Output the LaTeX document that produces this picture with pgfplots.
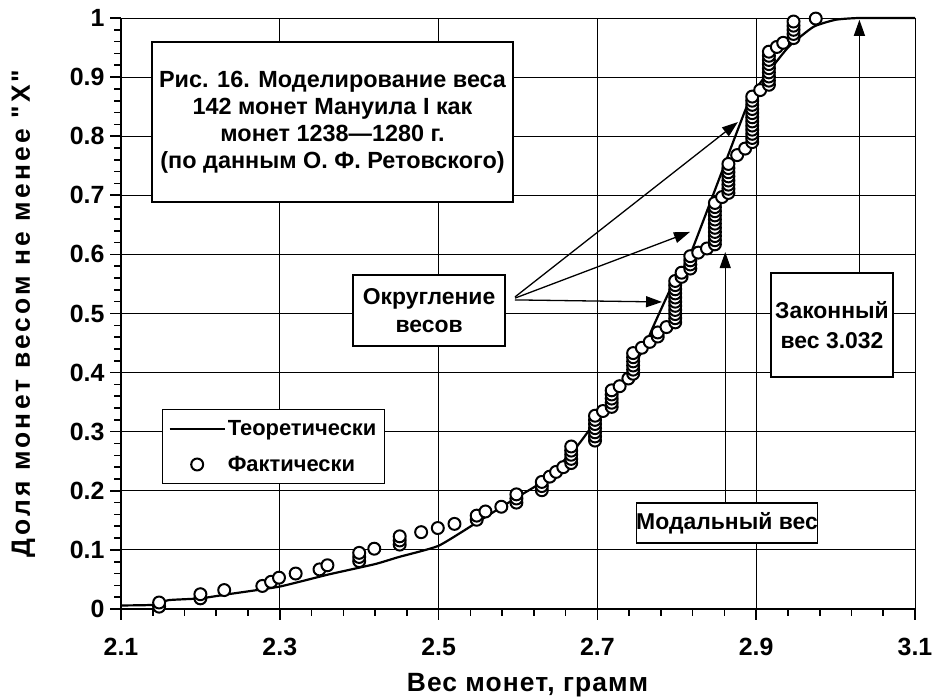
\documentclass[border=0pt]{standalone}
\usepackage{fontspec}
\setmainfont{Liberation Sans}[Ligatures=TeXOff]
\usepackage{pgfplots}
\pgfplotsset{compat=1.18}
\usetikzlibrary{arrows.meta}

\newcommand{\boxfont}{\fontsize{23.5}{27}\selectfont\bfseries}
\newcommand{\tickfont}{\fontsize{25}{25}\selectfont\bfseries}
\newcommand{\titlefont}{\fontsize{26.5}{26.5}\selectfont\bfseries\addfontfeatures{LetterSpace=4}}
\newcommand{\ytitlefont}{\fontsize{26.5}{26.5}\selectfont\bfseries\addfontfeatures{LetterSpace=12}}

\pgfplotsset{
  lineleg/.style={legend image code/.code={\draw[##1] (0bp,0bp) -- (55bp,0bp);}},
  markleg/.style={legend image code/.code={\draw[mark repeat=2,mark phase=2,##1] plot coordinates {(0bp,0bp) (27.5bp,0bp) (55bp,0bp)};}},
}

\begin{document}
\begin{tikzpicture}
\useasboundingbox (0,0) rectangle (934bp,699bp);
\begin{axis}[
  at={(121bp,90bp)}, anchor=south west,
  scale only axis, width=794bp, height=591bp,
  xmin=2.1, xmax=3.1, ymin=0, ymax=1,
  xtick={2.1,2.3,2.5,2.7,2.9,3.1},
  ytick={0,0.1,0.2,0.3,0.4,0.5,0.6,0.7,0.8,0.9,1},
  yticklabels={0,0.1,0.2,0.3,0.4,0.5,0.6,0.7,0.8,0.9,1},
  xticklabels={2.1,2.3,2.5,2.7,2.9,3.1},
  minor x tick num=4, minor y tick num=4,
  axis lines=left, axis line style={line width=2bp, -},
  grid=major, major grid style={line width=0.9bp, black},
  tick align=outside, major tick length=11bp, minor tick length=7bp,
  every tick/.style={black, line width=1.6bp},
  tick label style={font=\tickfont},
  xticklabel style={yshift=-15bp},
  yticklabel style={xshift=-2bp},
  clip=false,
  every axis y label/.style={at={(axis description cs:-0.123,0.5)}, rotate=90, anchor=center, font=\ytitlefont},
  every axis x label/.style={at={(axis description cs:0.512,-0.1286)}, anchor=center, font=\titlefont},
  ylabel={Доля монет весом не менее "X"},
  xlabel={Вес монет, грамм},
  legend style={at={(axis cs:2.1516,0.3384)}, anchor=north west, draw=black, line width=1.2bp, fill=white,
    font=\fontsize{22}{22}\selectfont\bfseries, row sep=15bp, inner xsep=6bp, inner ysep=9bp},
  legend cell align=left,
]
\addplot[black, line width=2.2bp, smooth, tension=0.3, lineleg] coordinates {
(2.10,0.006) (2.14,0.007) (2.16,0.015) (2.20,0.018) (2.24,0.026) (2.30,0.038)
(2.36,0.058) (2.42,0.076) (2.45,0.088) (2.50,0.107) (2.55,0.148) (2.60,0.190)
(2.63,0.215) (2.67,0.268) (2.70,0.322) (2.737,0.397) (2.757,0.437) (2.77,0.477)
(2.794,0.547) (2.817,0.600) (2.888,0.850) (2.905,0.890) (2.94,0.950) (2.972,0.985)
(3.00,0.997) (3.03,1.000) (3.10,1.000)
};
\addlegendentry{Теоретически}
\addplot[only marks, mark=*, mark size=6pt, mark options={fill=white, draw=black, line width=2bp}, markleg]
  table[row sep=\\] {
x y\\
2.148 0.004\\ 2.148 0.011\\ 2.200 0.018\\ 2.200 0.025\\ 2.230 0.032\\
2.278 0.039\\ 2.289 0.046\\ 2.299 0.053\\ 2.320 0.060\\ 2.350 0.067\\
2.360 0.074\\ 2.400 0.081\\ 2.400 0.088\\ 2.400 0.095\\ 2.419 0.102\\
2.451 0.109\\ 2.451 0.116\\ 2.451 0.123\\ 2.478 0.130\\ 2.499 0.137\\
2.520 0.144\\ 2.548 0.151\\ 2.548 0.158\\ 2.559 0.165\\ 2.579 0.173\\
2.598 0.180\\ 2.598 0.187\\ 2.598 0.194\\ 2.630 0.201\\ 2.630 0.208\\
2.630 0.215\\ 2.640 0.224\\ 2.648 0.232\\ 2.657 0.240\\ 2.667 0.247\\
2.667 0.254\\ 2.667 0.261\\ 2.667 0.268\\ 2.667 0.275\\ 2.697 0.285\\
2.697 0.292\\ 2.697 0.299\\ 2.697 0.306\\ 2.697 0.313\\ 2.697 0.320\\
2.697 0.327\\ 2.707 0.335\\ 2.718 0.342\\ 2.718 0.349\\ 2.718 0.356\\
2.718 0.363\\ 2.718 0.370\\ 2.728 0.377\\ 2.739 0.390\\ 2.745 0.398\\
2.745 0.405\\ 2.745 0.412\\ 2.745 0.419\\ 2.745 0.426\\ 2.745 0.433\\
2.756 0.442\\ 2.766 0.452\\ 2.776 0.461\\ 2.776 0.468\\ 2.787 0.477\\
2.798 0.485\\ 2.798 0.492\\ 2.798 0.499\\ 2.798 0.506\\ 2.798 0.513\\
2.798 0.520\\ 2.798 0.527\\ 2.798 0.534\\ 2.798 0.541\\ 2.798 0.548\\
2.798 0.555\\ 2.806 0.562\\ 2.806 0.569\\ 2.817 0.576\\ 2.817 0.583\\
2.817 0.590\\ 2.817 0.597\\ 2.827 0.603\\ 2.838 0.610\\ 2.848 0.617\\
2.848 0.624\\ 2.848 0.631\\ 2.848 0.638\\ 2.848 0.645\\ 2.848 0.652\\
2.848 0.659\\ 2.848 0.666\\ 2.848 0.673\\ 2.848 0.680\\ 2.848 0.687\\
2.857 0.697\\ 2.865 0.704\\ 2.865 0.711\\ 2.865 0.718\\ 2.865 0.725\\
2.865 0.732\\ 2.865 0.739\\ 2.865 0.746\\ 2.865 0.753\\ 2.876 0.768\\
2.886 0.779\\ 2.895 0.790\\ 2.895 0.797\\ 2.895 0.804\\ 2.895 0.811\\
2.895 0.818\\ 2.895 0.825\\ 2.895 0.832\\ 2.895 0.839\\ 2.895 0.846\\
2.895 0.853\\ 2.895 0.860\\ 2.895 0.867\\ 2.905 0.878\\ 2.916 0.887\\
2.916 0.894\\ 2.916 0.901\\ 2.916 0.908\\ 2.916 0.915\\ 2.916 0.922\\
2.916 0.929\\ 2.916 0.936\\ 2.916 0.943\\ 2.926 0.951\\ 2.934 0.958\\
2.947 0.966\\ 2.947 0.973\\ 2.947 0.980\\ 2.947 0.987\\ 2.947 0.994\\
2.975 0.999\\
};
\addlegendentry{Фактически}

% annotation boxes
\node[draw=black, line width=1.2bp, fill=white, minimum width=361bp, minimum height=160bp,
  align=center, font=\boxfont, inner sep=0pt] at (axis cs:2.3664,0.824)
  {Рис. 16. Моделирование веса\\142 монет Мануила I как\\монет 1238—1280 г.\\(по данным О. Ф. Ретовского)};
\node[draw=black, line width=1.2bp, fill=white, minimum width=152bp, minimum height=71bp,
  align=center, font=\fontsize{23}{28}\selectfont\bfseries, inner sep=0pt] at (axis cs:2.488,0.505)
  {Округление\\весов};
\node[draw=black, line width=1.2bp, fill=white, minimum width=180bp, minimum height=40bp,
  align=center, font=\fontsize{23}{28}\selectfont\bfseries, inner sep=0pt] at (axis cs:2.8632,0.1455)
  {Модальный вес};
\node[draw=black, line width=1.2bp, fill=white, minimum width=122bp, minimum height=104bp,
  align=center, font=\fontsize{23}{30}\selectfont\bfseries, inner sep=0pt] at (axis cs:2.9955,0.4805)
  {Законный\\вес 3.032};

% arrows
\draw[line width=1.3bp, -{Triangle[length=16bp,width=11bp]}] (axis cs:2.5962,0.528) -- (axis cs:2.877,0.824);
\draw[line width=1.3bp, -{Triangle[length=16bp,width=11bp]}] (axis cs:2.5962,0.526) -- (axis cs:2.8166,0.638);
\draw[line width=1.3bp, -{Triangle[length=16bp,width=11bp]}] (axis cs:2.5962,0.523) -- (axis cs:2.7814,0.5195);
\draw[line width=1.3bp, -{Triangle[length=16bp,width=11bp]}] (axis cs:2.861,0.179) -- (axis cs:2.861,0.604);
\draw[line width=1.3bp, -{Triangle[length=16bp,width=11bp]}] (axis cs:3.03,0.5685) -- (axis cs:3.03,0.997);
\end{axis}
\end{tikzpicture}
\end{document}
